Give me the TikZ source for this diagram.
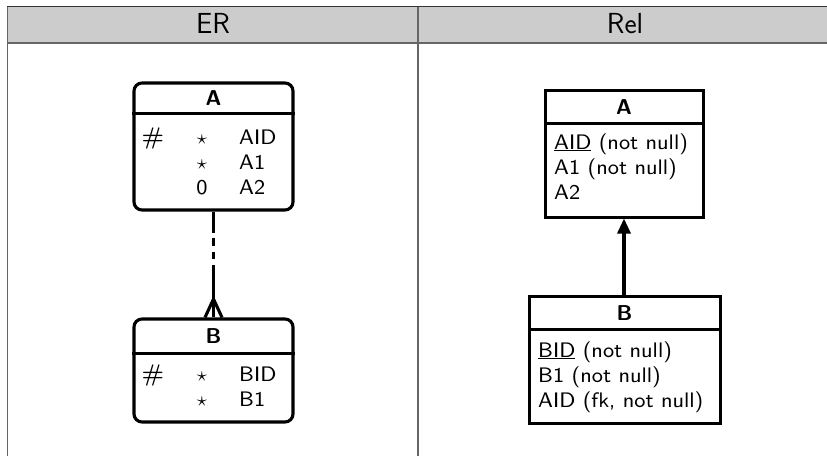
\documentclass[tikz,border=0pt]{standalone}
\usepackage{fontspec}
\usetikzlibrary{arrows.meta,calc}
\newfontfamily\lmseight{lmsans8-regular}[Extension=.otf]
\definecolor{hdrgray}{HTML}{CCCCCC}
\definecolor{gridgray}{HTML}{666666}
\definecolor{topdark}{HTML}{333333}
\newcommand{\myfont}{\lmseight\fontsize{21}{26}\selectfont}
\newcommand{\mytitlefont}{\sffamily\bfseries\fontsize{21.5}{26}\selectfont}
\newcommand{\myhdrfont}{\sffamily\fontsize{29}{34}\selectfont}
\begin{document}
\begin{tikzpicture}[x=1pt,y=-1pt,
  hdrtext/.style={font=\myhdrfont, inner sep=0pt, anchor=base},
  txt/.style={font=\myfont, inner sep=0pt, anchor=base west},
  ttl/.style={font=\mytitlefont, inner sep=0pt, anchor=base},
  hashsym/.style={font=\rmfamily\bfseries\fontsize{24}{28}\selectfont, inner sep=0pt, anchor=base},
  mark sym/.style={font=\myfont, inner sep=0pt, anchor=base},
  erbox/.style={draw, line width=3.1pt, rounded corners=8pt, inner sep=0pt},
  relbox/.style={draw, line width=3pt, inner sep=0pt},
  sepline/.style={line width=3pt},
  conn/.style={line width=3.1pt}]
\useasboundingbox (0,0) rectangle (827,455);
% table
\fill[hdrgray] (7.5,6.5) rectangle (835,43);
\draw[gridgray, line width=2pt] (7.5,43) -- (835,43);
\draw[gridgray, line width=1.8pt] (7.5,6.5) -- (7.5,460);
\draw[gridgray, line width=1.8pt] (418,6.5) -- (418,460);
\draw[topdark, line width=1.6pt] (7,6.5) -- (835,6.5);
\node[hdrtext] (hER) at (213,33) {ER};
\node[hdrtext] (hRel) at (625,33) {Rel};
% ER side
\node[erbox, minimum width=159pt, minimum height=127pt] (erA) at (213.5,146.5) {};
\draw[sepline] (erA.west |- 0,113) -- (erA.east |- 0,113);
\node[ttl] (erAt) at (213.5,105) {A};
\node[hashsym] (erAh) at (153,144) {\#};
\node[mark sym] (erAs1) at (202,144) {$\star$};
\node[mark sym] (erAs2) at (202,169) {$\star$};
\node[mark sym] (erAs3) at (202,194) {0};
\node[txt] (erA1) at (239,144) {AID};
\node[txt] (erA2) at (239,169) {A1};
\node[txt] (erA3) at (239,194) {A2};

\node[erbox, minimum width=159pt, minimum height=103pt] (erB) at (213.5,370.5) {};
\draw[sepline] (erB.west |- 0,353) -- (erB.east |- 0,353);
\node[ttl] (erBt) at (213.5,343) {B};
\node[hashsym] (erBh) at (153,381.5) {\#};
\node[mark sym] (erBs1) at (202,381.5) {$\star$};
\node[mark sym] (erBs2) at (202,406.5) {$\star$};
\node[txt] (erB1) at (239,381.5) {BID};
\node[txt] (erB2) at (239,406.5) {B1};

\coordinate (erMid) at (213.5,266);
\coordinate (erFoot) at (213.5,299);
\draw[conn, dash pattern=on 21pt off 5pt on 8pt off 6pt on 7pt off 6pt on 10pt] (erA.south) -- (erMid);
\draw[conn] (erMid) -- (erB.north);
\draw[conn, line join=round] ($(erB.north)+(-8.5,0)$) -- (erFoot) -- ($(erB.north)+(8.5,0)$);
% Rel side
\node[relbox, minimum width=158pt, minimum height=127pt] (relA) at (624,153.5) {};
\draw[sepline] (relA.west |- 0,123) -- (relA.east |- 0,123);
\node[ttl] (relAt) at (624,114) {A};
\node[txt] (relA1) at (554,149) {\underline{AID} (not null)};
\node[txt] (relA2) at (554,174) {A1 (not null)};
\node[txt] (relA3) at (554,199) {A2};

\node[relbox, minimum width=191pt, minimum height=127pt] (relB) at (624.5,359.5) {};
\draw[sepline] (relB.west |- 0,329) -- (relB.east |- 0,329);
\node[ttl] (relBt) at (624.5,320) {B};
\node[txt] (relB1) at (538,357) {\underline{BID} (not null)};
\node[txt] (relB2) at (538,382) {B1 (not null)};
\node[txt] (relB3) at (538,407) {AID (fk, not null)};

\draw[conn, -{Triangle[length=15pt,width=13pt]}] (relB.north -| relA.south) -- (relA.south);
\end{tikzpicture}
\end{document}
